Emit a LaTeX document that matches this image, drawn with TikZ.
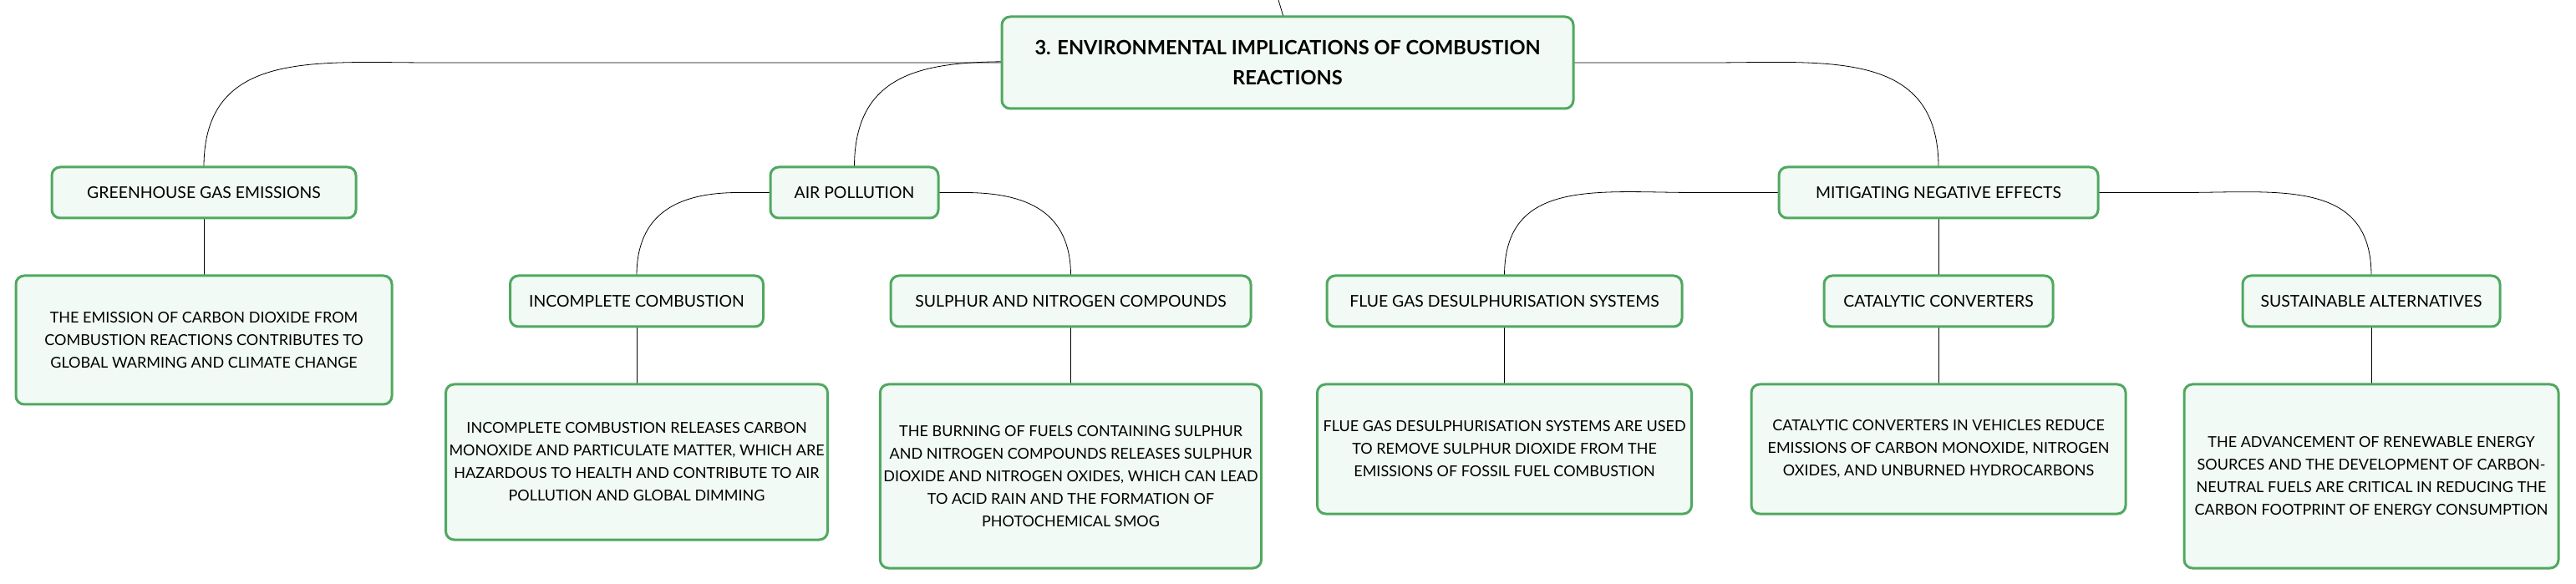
\documentclass[tikz,border=0pt]{standalone}
\usepackage{fontspec}
\setmainfont{Lato}
\usetikzlibrary{positioning}
\usetikzlibrary{backgrounds}
\definecolor{boxgreen}{RGB}{80,168,96}
\definecolor{boxfill}{RGB}{241,250,244}
\definecolor{linegray}{RGB}{95,95,95}
\tikzset{
	topic/.style={draw=boxgreen, line width=1.5pt, rounded corners=5pt, fill=boxfill, minimum height=30.5pt, inner sep=2pt, outer sep=0pt, align=center, font=\fontsize{9.7}{13.5}\selectfont},
	title/.style={topic, minimum width=342pt, minimum height=55pt, font=\fontsize{11.8}{18}\selectfont\bfseries},
	% for the long text boxes below the topics
	leaf/.style={topic, minimum width=224pt, font=\fontsize{9}{13.5}\selectfont},
}

\begin{document}
\begin{tikzpicture}
		\useasboundingbox (0,0) rectangle (1541.5pt,-349.5pt);
		
		\coordinate (up) at (765pt,0);
		\node (root) [title] at (770.5pt,-37.5pt) {3. ENVIRONMENTAL IMPLICATIONS OF COMBUSTION\\REACTIONS};
		
		\node (gge) [topic, minimum width=182pt, below=35pt of root, xshift=-648.5pt] {GREENHOUSE GAS EMISSIONS};
		\node (ap) [topic, minimum width=100.5pt, below=35pt of root, xshift=-259.25pt] {AIR POLLUTION};
		\node (mit) [topic, minimum width=191pt, below=35pt of root, xshift=389.5pt] {MITIGATING NEGATIVE EFFECTS};
		
		\node (ic) [topic, minimum width=151.5pt, below=34.5pt of ap, xshift=-130.25pt] {INCOMPLETE COMBUSTION};
		\node (sn) [topic, minimum width=215.5pt, below=34.5pt of ap, xshift=129.5pt] {SULPHUR AND NITROGEN COMPOUNDS};
		\node (fg) [topic, minimum width=212.5pt, below=34.5pt of mit, xshift=-259.75pt] {FLUE GAS DESULPHURISATION SYSTEMS};
		\node (cc) [topic, minimum width=137pt, below=34.5pt of mit] {CATALYTIC CONVERTERS};
		\node (sa) [topic, minimum width=154pt, below=34.5pt of mit, xshift=259pt] {SUSTAINABLE ALTERNATIVES};
		
		\node (ggel) [leaf, minimum width=225pt, minimum height=77pt, below=34.5pt of gge] {THE EMISSION OF CARBON DIOXIDE FROM\\COMBUSTION REACTIONS CONTRIBUTES TO\\GLOBAL WARMING AND CLIMATE CHANGE};
		\node (icl) [leaf, minimum height=93pt, below=34.5pt of ic] {INCOMPLETE COMBUSTION RELEASES CARBON\\MONOXIDE AND PARTICULATE MATTER, WHICH ARE\\HAZARDOUS TO HEALTH AND CONTRIBUTE TO AIR\\POLLUTION AND GLOBAL DIMMING};
		\node (snl) [leaf, minimum height=110pt, below=34.5pt of sn] {THE BURNING OF FUELS CONTAINING SULPHUR\\AND NITROGEN COMPOUNDS RELEASES SULPHUR\\DIOXIDE AND NITROGEN OXIDES, WHICH CAN LEAD\\TO ACID RAIN AND THE FORMATION OF\\PHOTOCHEMICAL SMOG};
		\node (fgl) [leaf, minimum height=77.5pt, below=34.5pt of fg] {FLUE GAS DESULPHURISATION SYSTEMS ARE USED\\TO REMOVE SULPHUR DIOXIDE FROM THE\\EMISSIONS OF FOSSIL FUEL COMBUSTION};
		\node (ccl) [leaf, minimum height=77.5pt, below=34.5pt of cc] {CATALYTIC CONVERTERS IN VEHICLES REDUCE\\EMISSIONS OF CARBON MONOXIDE, NITROGEN\\OXIDES, AND UNBURNED HYDROCARBONS};
		\node (sal) [leaf, minimum height=110pt, below=34.5pt of sa] {THE ADVANCEMENT OF RENEWABLE ENERGY\\SOURCES AND THE DEVELOPMENT OF CARBON-\\NEUTRAL FUELS ARE CRITICAL IN REDUCING THE\\CARBON FOOTPRINT OF ENERGY CONSUMPTION};
		
		\begin{scope}[on background layer, line width=0.7pt, linegray]
			\draw (up) -- ([xshift=-2.5pt]root.north);
			\draw (root.west) -- ++(-341.5pt,0) to[out=180, in=90, looseness=1.2] (gge.north);
			\draw ([xshift=56pt]root.west) to[out=180, in=90, looseness=1.2] (ap.north);
			\draw (root.east) -- ++(81.5pt,0) to[out=0, in=90, looseness=1.2] (mit.north);
			
			\draw (ap.west) -- ++(-19pt,0) to[out=180, in=90, looseness=1.2] (ic.north);
			\draw (ap.east) -- ++(15.5pt,0) to[out=0, in=90, looseness=1.2] (sn.north);
			\draw (mit.west) -- ++(-50pt,0) to[out=180, in=90, looseness=1.2] (fg.north);
			\draw (mit.south) -- (cc.north);
			\draw (mit.east) -- ++(50pt,0) to[out=0, in=90, looseness=1.2] (sa.north);
			
			\draw (gge) -- (ggel);
			\draw (ic) -- (icl);
			\draw (sn) -- (snl);
			\draw (fg) -- (fgl);
			\draw (cc) -- (ccl);
			\draw (sa) -- (sal);
		\end{scope}
	\end{tikzpicture}
\end{document}
